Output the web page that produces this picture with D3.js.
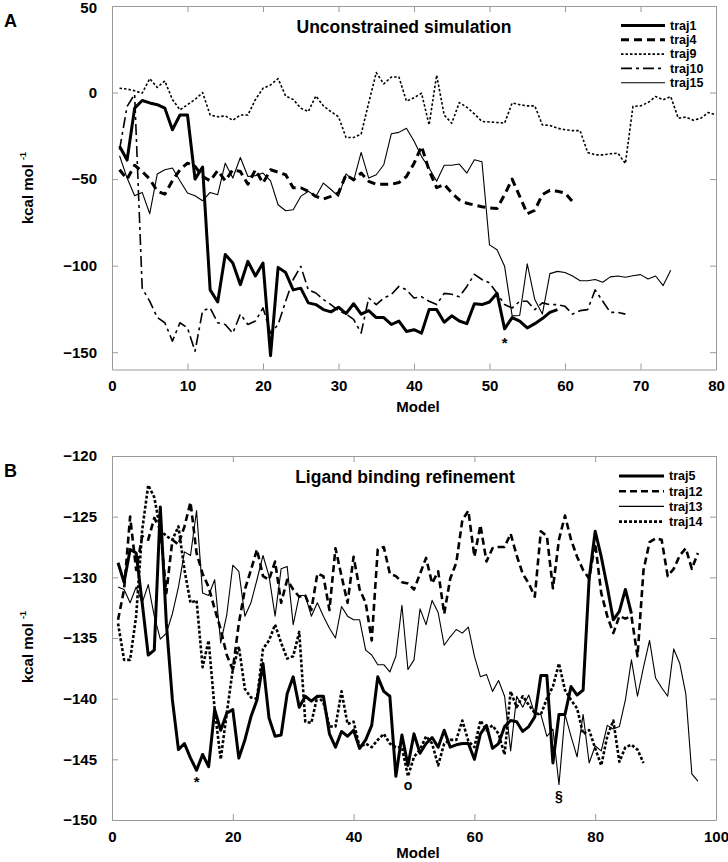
<!doctype html>
<html>
<head>
<style>
  body { margin: 0; background: #fff; }
  svg { font-family: "Liberation Sans", Arial, sans-serif; font-weight: bold; }
</style>
<script src="https://d3js.org/d3.v7.min.js"></script>
</head>
<body>
<svg width="728" height="862"></svg>
<script>

// ---- panel A : unconstrained simulation (index 0 = model 1)
var namesA = ["traj1", "traj4", "traj9", "traj10", "traj15"];
var traj1 = [-31,-39,-9,-4.6,-6,-7,-9,-21.5,-13,-13,-50,-43,-114,-121,-93.5,-98.5,-111,-97.5,-106,-98.5,
  -152,-101,-104,-114,-113,-121.5,-122.5,-125.4,-126.7,-124,-127.7,-122,-128,-126,-130,-130,-134,-132,-138,-137,
  -139,-125.4,-125.4,-132.7,-129,-132,-133.5,-122,-122.5,-121,-116,-136.5,-130,-132,-136,-133.5,-130.6,-127,-125.4];
var traj4 = [-44.6,-50,-42,-45.6,-50,-57,-58.7,-51,-44.6,-40.8,-42.7,-48.5,-51,-45,-51,-44.6,-45.6,-53,-44.6,-52.3,
  -44.6,-46,-47.5,-55,-55,-57,-60,-61.5,-60,-58,-47.5,-50.4,-46.5,-51.3,-53,-53,-53,-52,-48.5,-41,
  -31,-45,-55,-53,-58,-62,-64,-65,-66,-66.7,-67,-59,-50,-60,-70,-68,-59,-56.5,-57,-58,-63];
var traj9 = [2.5,2,1,-0.4,8,3,6.7,-4,-10,-7,-4,0,-13,-14,-13.5,-16,-13,-13,-4,2.5,
  4.4,8,-2,-4,-9,-11,-2,-7.7,-11,-14,-26,-26,-24,-6,11.5,5,9,9,-5,-3,
  -0.4,-18.7,10,-13,-17.7,-5.8,-8.5,-12.3,-16.7,-17,-17.3,-17.7,-6,-7,-7.7,-7.7,-18.7,-19,-20.6,-21.5,
  -22,-22,-34.6,-36,-36,-35.4,-35,-41,-8,-7.7,-5.8,-2.3,-4.2,-2.3,-14.8,-14.2,-16,-14.8,-11.5,-13];
var traj10 = [-33,-8,-1,-113,-120.6,-130,-133,-143.6,-133,-136,-149.4,-126,-124.4,-133,-134,-139,-128,-134,-132,-124.4,
  -139,-134,-120.6,-108,-100.4,-114,-115.8,-119.6,-122.5,-126,-128,-131,-139,-118.7,-122.5,-118.7,-116.7,-112,-114,-118.7,
  -118,-120.6,-122.5,-116,-116.5,-118,-112,-105,-108,-110,-116,-122.5,-124.5,-120.6,-120.6,-125.4,-121.5,-122.5,-122.5,-123.5,
  -128,-126,-125.4,-114,-120.6,-127,-127,-128];
var traj15 = [-36.5,-49.4,-59.6,-57.7,-70,-47,-44.6,-43.6,-51,-58,-59.6,-62.5,-57.7,-59,-40.8,-49.4,-37.5,-48.5,-48,-46.5,
  -51,-64.8,-68.3,-67.7,-60,-57,-60,-52.3,-56,-60,-47,-51,-34.6,-49.4,-47.5,-41.7,-23.8,-23,-20.6,-28,
  -37,-43.6,-51.3,-42,-42,-41.3,-46.5,-38.8,-40,-88,-90.8,-100.4,-129,-128.8,-99,-119.6,-128,-104.6,-103.3,-104,
  -106,-108.7,-108.7,-108,-109.6,-106.5,-106,-106.7,-105.8,-105.2,-107.7,-106,-111.5,-102.7];
var xTicksA = [0, 10, 20, 30, 40, 50, 60, 70, 80];
var yTicksA = [50, 0, -50, -100, -150];

// ---- panel B : ligand binding refinement
var namesB = ["traj5", "traj12", "traj13", "traj14"];
var traj5 = [-128.8,-130.4,-127.7,-128,-132.1,-136.4,-136,-124.2,-133.8,-140.1,-144.2,-143.7,-144.9,-145.9,-144.6,-145.6,-140.9,-142.6,-141.2,-140.9,
  -144.9,-143.4,-141.5,-140.1,-137.1,-141.6,-143.1,-143,-139.6,-138.2,-140.7,-139.8,-140.2,-139.8,-139.8,-142.9,-144,-142.7,-143.1,-142.6,
  -144.1,-143.4,-142.2,-138.2,-139.4,-139.8,-146.4,-143,-145.5,-142.9,-144.5,-143.7,-143.2,-144,-142.6,-144,-143.8,-143.7,-143.7,-145,
  -142.9,-142.2,-144.1,-143.7,-142.3,-141.8,-141.9,-142.7,-142.3,-141.5,-138.1,-138.1,-145.3,-141.3,-141.3,-139,-139.7,-139.3,-130.1,-126.2,
  -128.3,-130.8,-133.5,-132.8,-131,-133];
var traj12 = [-133.5,-131,-125,-129.4,-126.6,-126.9,-125.1,-126.1,-131.3,-126.9,-127.3,-125.8,-123.8,-128,-129.7,-130.8,-132.6,-134.3,-136.4,-137.6,
  -133.8,-131,-129.4,-127.7,-129.9,-130.2,-128.7,-132.1,-130.2,-131,-131.6,-131.5,-132.7,-129.7,-129.9,-132.7,-127.6,-129.9,-132.1,-128.3,
  -131,-132.1,-135.2,-127.7,-127.5,-129.7,-129.9,-130.4,-130.5,-131,-129.7,-128.4,-130.5,-129.5,-133,-130.1,-128.8,-125.3,-124.5,-128.3,
  -125.7,-128.7,-127.6,-127.5,-127.5,-126.4,-128.2,-129.7,-130.5,-131.6,-126.2,-126.6,-130.9,-126.9,-124.9,-126.9,-128.3,-129.4,-130.1,-127.2,
  -131.3,-133.2,-134.6,-133.2,-133.4,-133.2,-136.5,-129.4,-127.1,-126.8,-126.9,-129.9,-129.3,-128.2,-127.6,-129.3,-128];
var traj13 = [-130.8,-131,-132.1,-130.8,-132.1,-130.6,-133.2,-135.1,-134.6,-133,-130.8,-127.9,-128.2,-124.5,-131.3,-131.5,-130.2,-135.4,-133.1,-129,
  -129.5,-133.2,-132.1,-130.2,-128.2,-129.9,-133.2,-129.3,-129.1,-133.9,-131.5,-131.5,-133.2,-132.1,-133.2,-134.2,-135,-132.4,-133.2,-133.5,
  -133.5,-136,-136.4,-137.2,-137.2,-137.8,-136.5,-132.3,-137.6,-136.8,-132.6,-133.9,-131.9,-132.9,-135.6,-134.9,-134.3,-134.6,-134.1,-136.5,
  -138.2,-138,-139.4,-138.5,-139.8,-144.3,-139.8,-140.7,-139.7,-141.3,-141.3,-143.1,-142.5,-147.1,-141.3,-143.1,-144.8,-141.3,-145.3,-143.9,
  -144.3,-142.2,-142.5,-142.3,-140.1,-136.8,-139.8,-137.4,-135.2,-138.3,-139.1,-139.8,-135.9,-137.1,-139.6,-146.2,-146.8];
var traj14 = [-133.8,-136.8,-136.8,-133.2,-126.1,-122.4,-123.4,-126.1,-126.6,-126.9,-125.8,-129.4,-132.1,-131.9,-137.4,-135.2,-140.9,-145,-141.2,-137.6,
  -135.7,-139.2,-139.9,-140,-135.9,-135.2,-133.9,-135.4,-136.7,-136.5,-134.5,-141.9,-142,-139.8,-140.3,-142.3,-142.3,-139.4,-142.1,-141.9,
  -144,-143.7,-144,-143.4,-142.9,-143.7,-144,-144,-146.4,-144.8,-144.2,-143.1,-143.7,-145.5,-143.7,-143.4,-143.4,-141.8,-143.5,-144,
  -141.8,-142.6,-142.2,-142.9,-144.6,-139.4,-140.7,-139.8,-140.5,-141.2,-141.3,-140,-139,-137.1,-139.3,-140.1,-140.8,-142.9,-142.6,-144.1,
  -145.5,-143.1,-141.8,-145.2,-144,-143.8,-144.2,-145.3];
var xTicksB = [0, 20, 40, 60, 80, 100];
var yTicksB = [-120, -125, -130, -135, -140, -145, -150];

var svg = d3.select("svg");
var left = 112, right = 716;

// line looks: width, dash
var styles = {
  traj1:  {w: 3,   dash: null},
  traj4:  {w: 3,   dash: "8,5"},
  traj9:  {w: 1.6, dash: "2.5,2"},
  traj10: {w: 1.6, dash: "11,4,3,4"},
  traj15: {w: 1.1, dash: null},
  traj5:  {w: 3,   dash: null},
  traj12: {w: 2.6, dash: "7,4"},
  traj13: {w: 1.1, dash: null},
  traj14: {w: 2.6, dash: "3,2"}
};

function panel(p) {
  var x = d3.scaleLinear().domain(p.xDom).range([left, right]);
  var y = d3.scaleLinear().domain(p.yDom).range([p.bottom, p.top]);
  var g = svg.append("g");

  function frame(sel) {
    sel.attr("color", "#9a9a9a").attr("font-family", null).attr("font-size", 15)
    sel.selectAll("text").attr("fill", "#000");
  }

  g.append("g").attr("transform", "translate(0," + p.bottom + ")")
   .call(d3.axisBottom(x).tickValues(p.xTicks).tickSizeInner(-6).tickSizeOuter(0).tickPadding(11))
   .call(frame);
  g.append("g").attr("transform", "translate(0," + p.top + ")")
   .call(d3.axisTop(x).tickValues(p.xTicks).tickSizeInner(-6).tickSizeOuter(0).tickFormat(""))
   .call(frame);
  var yAxis = g.append("g").attr("transform", "translate(" + left + ",0)")
   .call(d3.axisLeft(y).tickValues(p.yTicks).tickSizeInner(-6).tickSizeOuter(0).tickPadding(15))
   .call(frame);
  // keep the topmost label inside the picture
  yAxis.selectAll(".tick text").filter(function(d) { return y(d) < 8; }).attr("dy", "0.42em");
  g.append("g").attr("transform", "translate(" + right + ",0)")
   .call(d3.axisRight(y).tickValues(p.yTicks).tickSizeInner(-6).tickSizeOuter(0).tickFormat(""))
   .call(frame);

  var line = d3.line().x(function(d, i) { return x(i + 1); }).y(function(d) { return y(d); });

  p.series.forEach(function(s) {
    var st = styles[s.name];
    g.append("path")
     .datum(s.values)
     .attr("fill", "none")
     .attr("stroke", "#000")
     .attr("stroke-width", st.w)
     .attr("stroke-dasharray", st.dash)
     .attr("stroke-linejoin", "round")
     .attr("d", line);
  });

  // legend
  p.series.forEach(function(s, i) {
    var st = styles[s.name], ly = p.legY + i * p.legStep;
    g.append("line")
     .attr("x1", p.legX1).attr("x2", p.legX2).attr("y1", ly).attr("y2", ly)
     .attr("stroke", "#000").attr("stroke-width", st.w)
     .attr("stroke-dasharray", st.dash);
    g.append("text")
     .attr("x", p.legX2 + 5).attr("y", ly).attr("dy", "0.35em")
     .attr("font-size", 12.5)
     .text(s.name);
  });

  // title
  g.append("text")
   .attr("x", p.titleX).attr("y", p.titleY)
   .attr("text-anchor", "middle").attr("font-size", 17.5)
   .text(p.title);

  // axis titles
  g.append("text")
   .attr("x", (left + right) / 2 + 4).attr("y", p.modelY)
   .attr("text-anchor", "middle").attr("font-size", 15)
   .text("Model");

  var yl = g.append("text")
   .attr("transform", "translate(33," + p.ylabY + ") rotate(-90)")
   .attr("text-anchor", "middle").attr("font-size", 15)
   .text("kcal mol ");
  yl.append("tspan").attr("font-size", 9).attr("dy", -7).text("-1");

  // panel letter
  g.append("text").attr("x", 4).attr("y", p.letterY)
   .attr("font-size", 18).text(p.letter);

  // marks under selected models
  p.marks.forEach(function(m) {
    g.append("text")
     .attr("x", x(m.model)).attr("y", y(m.v) + m.off)
     .attr("text-anchor", "middle").attr("font-size", m.size)
     .text(m.sym);
  });
}

panel({
  xDom: [0, 80], yDom: [-160, 50], top: 6, bottom: 369.5,
  xTicks: xTicksA, yTicks: yTicksA,
  series: namesA.map(function(n, i) { return {name: n, values: [traj1, traj4, traj9, traj10, traj15][i]}; }),
  legX1: 621, legX2: 665, legY: 25.5, legStep: 14.3,
  title: "Unconstrained simulation", titleX: 404, titleY: 33,
  modelY: 412, ylabY: 188, letter: "A", letterY: 27,
  marks: [{model: 52, v: traj1[51], off: 19, sym: "*", size: 15}]
});

panel({
  xDom: [0, 100], yDom: [-150, -120], top: 456, bottom: 820,
  xTicks: xTicksB, yTicks: yTicksB,
  series: namesB.map(function(n, i) { return {name: n, values: [traj5, traj12, traj13, traj14][i]}; }),
  legX1: 619, legX2: 664, legY: 476, legStep: 15.2,
  title: "Ligand binding refinement", titleX: 405, titleY: 483,
  modelY: 858, ylabY: 647, letter: "B", letterY: 477,
  marks: [{model: 14, v: traj5[13], off: 17, sym: "*", size: 15},
          {model: 49, v: traj14[48], off: 14, sym: "o", size: 14},
          {model: 74, v: traj13[73], off: 16, sym: "§", size: 14}]
});

</script>
</body>
</html>
